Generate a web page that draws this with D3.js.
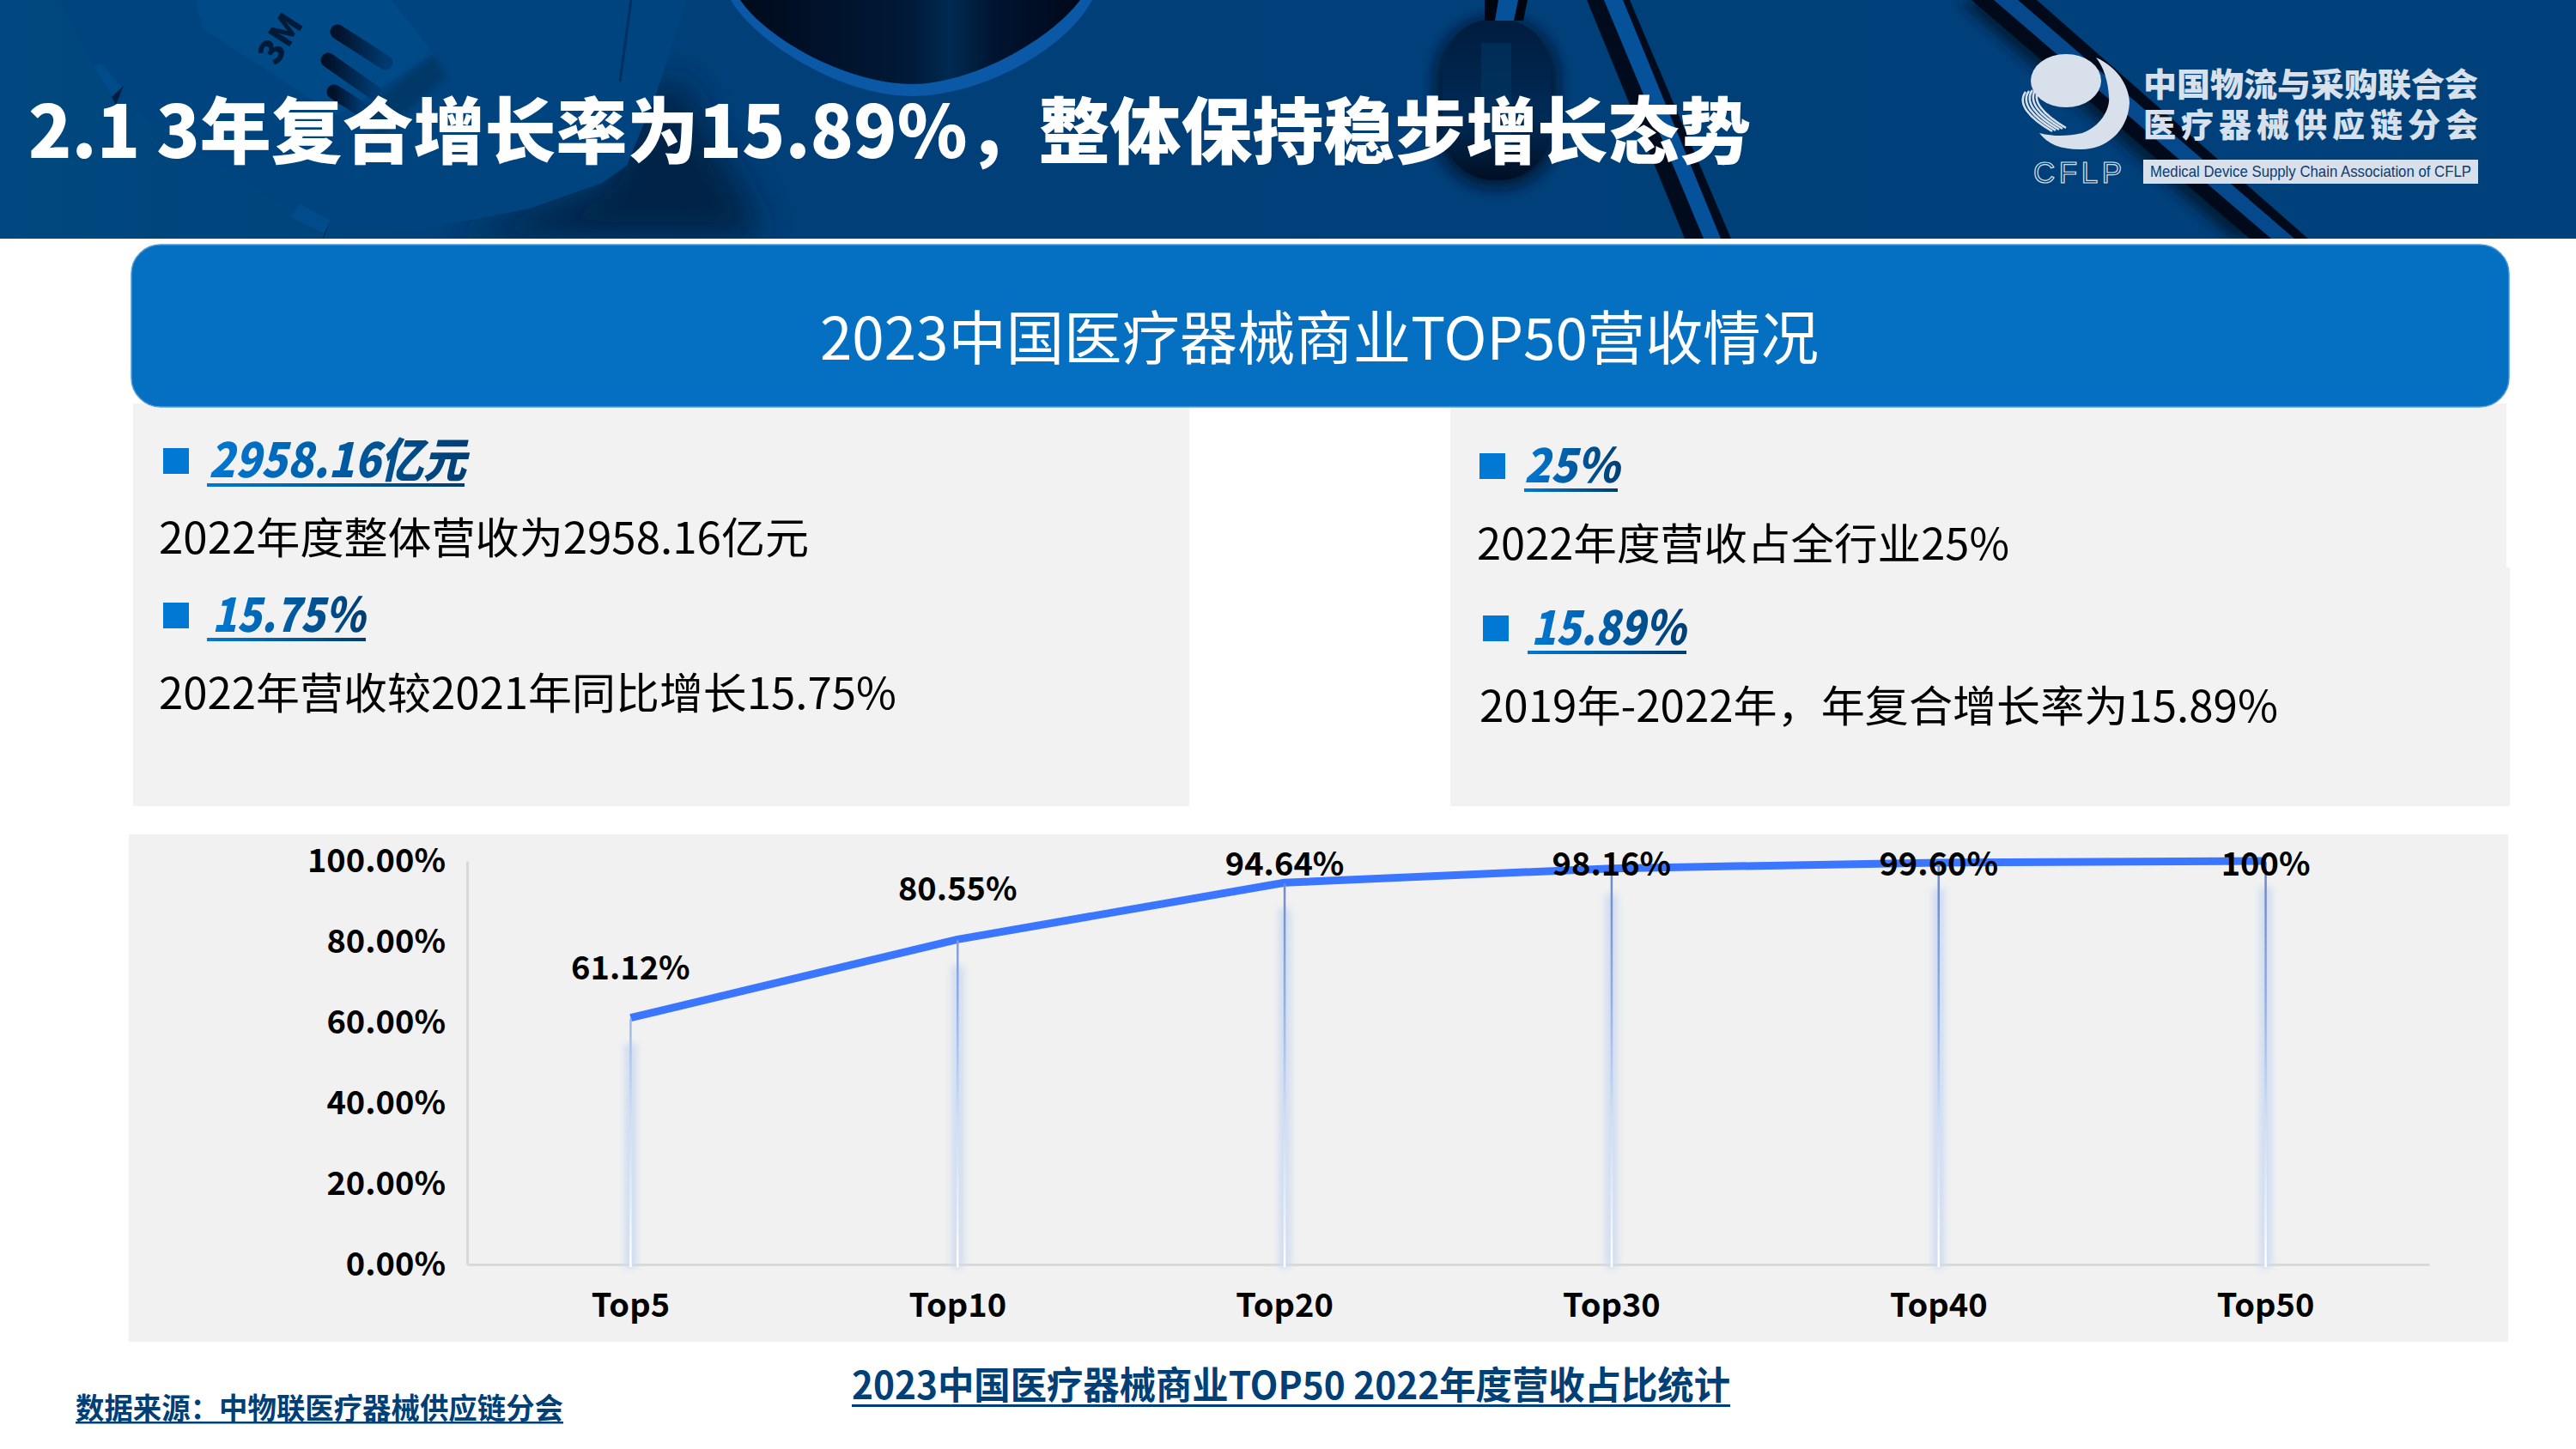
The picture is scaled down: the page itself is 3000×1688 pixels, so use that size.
<!DOCTYPE html>
<html>
<head>
<meta charset="utf-8">
<script src="https://cdnjs.cloudflare.com/ajax/libs/d3/7.8.5/d3.min.js"></script>
<style>
  html, body { margin: 0; padding: 0; background: #ffffff; }
  svg { display: block; }
  text { font-family: "Noto Sans CJK SC", "Noto Sans", sans-serif; }
</style>
</head>
<body>
<svg id="page" width="3000" height="1688"></svg>
<script>
// chart data
var categories = ["Top5", "Top10", "Top20", "Top30", "Top40", "Top50"];
var shareValues = [61.12, 80.55, 94.64, 98.16, 99.60, 100];
var shareLabels = ["61.12%", "80.55%", "94.64%", "98.16%", "99.60%", "100%"];
var yTicks = [0, 20, 40, 60, 80, 100];

var svg = d3.select("#page");
var defs = svg.append("defs");

function gradient(id, stops, horizontal) {
  var g = defs.append("linearGradient").attr("id", id)
    .attr("x1", 0).attr("y1", 0)
    .attr("x2", horizontal ? 1 : 0).attr("y2", horizontal ? 0 : 1);
  stops.forEach(function (s) {
    g.append("stop").attr("offset", s[0]).attr("stop-color", s[1]);
  });
  return g;
}
function blur(id, sd) {
  defs.append("filter").attr("id", id)
    .attr("x", "-100%").attr("y", "-100%").attr("width", "300%").attr("height", "300%")
    .append("feGaussianBlur").attr("stdDeviation", sd);
}
gradient("hl", [[0, "#0079d4"], [1, "#003e72"]], true);
gradient("bowl", [[0, "#000a1c"], [0.5, "#001a38"], [0.62, "#002a52"], [0.75, "#001430"], [1, "#00081a"]], true);
gradient("capsule", [[0, "#001c3d"], [0.6, "#002b57"], [1, "#000f24"]], false);
gradient("base", [[0, "#00487f"], [0.3, "#003f78"], [1, "#00417b"]], true);
gradient("slot", [[0, "#00122a"], [1, "#003a70"]], true);
blur("b4", 4);
blur("b8", 8);
blur("b20", 20);
// keeps the blurred shadows inside the header band
defs.append("clipPath").attr("id", "headClip")
  .append("rect").attr("width", 3000).attr("height", 278);

/* ---------- header band with the picture behind the title ---------- */
var head = svg.append("g").attr("clip-path", "url(#headClip)");
head.append("rect").attr("width", 3000).attr("height", 278).attr("fill", "url(#base)");

// mask
head.append("path").attr("filter", "url(#b20)").attr("fill", "#001a3a").attr("opacity", 0.8)
  .attr("d", "M790,90 L880,250 L880,278 L520,278 L700,215 L750,110 Z");
head.append("path").attr("fill", "#00447f")
  .attr("d", "M70,0 L109,77 L130,113 L337,243 L386,263 L491,267 L617,243 L701,213 L730,193 L765,107 L800,0 Z");
head.append("path").attr("fill", "#004a88")
  .attr("d", "M228,0 L235,33 L393,135 L505,63 L456,0 Z");
head.append("path").attr("fill", "#003767").attr("filter", "url(#b4)")
  .attr("d", "M505,63 L420,130 L440,160 L520,90 Z");
head.append("path").attr("fill", "none").attr("stroke", "#003060").attr("stroke-width", 3)
  .attr("d", "M735,0 L722,95");
head.append("path").attr("fill", "#004c8a").attr("d", "M109,77 L118,74 L144,104 L133,115 Z");
head.append("path").attr("fill", "#001e42").attr("d", "M130,113 L144,100 L135,122 Z");
head.append("path").attr("fill", "#004c8a").attr("d", "M337,252 L350,238 L385,257 L378,272 Z");
head.append("path").attr("fill", "#001e42").attr("d", "M378,272 L385,257 L375,282 Z");
head.selectAll(".slot").data([[393, 37, 449, 73], [382, 70, 435, 107], [389, 107, 421, 127]]).enter()
  .append("line").attr("class", "slot")
  .attr("x1", function (d) { return d[0]; }).attr("y1", function (d) { return d[1]; })
  .attr("x2", function (d) { return d[2]; }).attr("y2", function (d) { return d[3]; })
  .attr("stroke", "url(#slot)").attr("stroke-width", 17).attr("stroke-linecap", "round");
head.append("text").attr("transform", "translate(326,45) rotate(-57)")
  .attr("text-anchor", "middle").attr("dy", "0.36em")
  .attr("font-size", 40).attr("font-weight", 900).attr("fill", "#001a38").text("3M");

// bowl
head.append("path").attr("fill", "#0a58a6")
  .attr("d", "M851,0 C880,50 980,112 1062,112 C1140,112 1240,60 1272,0 Z");
head.append("path").attr("fill", "url(#bowl)")
  .attr("d", "M862,0 C895,48 990,98 1062,98 C1130,98 1222,48 1258,0 Z");

// capsule and tubes
head.append("rect").attr("x", 1670).attr("y", 20).attr("width", 146).attr("height", 200).attr("rx", 70)
  .attr("fill", "#000f24").attr("opacity", 0.7).attr("filter", "url(#b8)");
head.append("rect").attr("x", 1680).attr("y", 22).attr("width", 126).attr("height", 188).attr("rx", 60)
  .attr("fill", "url(#capsule)");
head.append("rect").attr("x", 1725).attr("y", 50).attr("width", 35).attr("height", 120).attr("fill", "#00335f").attr("opacity", 0.7);
head.append("path").attr("fill", "#00060f").attr("d", "M1729,0 L1779,0 L1774,24 L1729,24 Z");
head.append("path").attr("fill", "#06529a").attr("d", "M1745,0 L1768,0 L1763,24 L1741,24 Z");
head.append("path").attr("fill", "#000c1e").attr("d", "M1848,0 L1898,0 L2016,278 L1962,278 Z");
head.append("path").attr("fill", "#06529a").attr("d", "M1868,0 L1890,0 L2004,278 L1984,278 Z");
head.append("path").attr("fill", "#001a38").attr("filter", "url(#b8)")
  .attr("d", "M2280,0 L2330,0 L2660,278 L2600,278 Z");
head.append("path").attr("fill", "#000a1a").attr("d", "M2296,0 L2372,0 L2688,278 L2620,278 Z");
head.append("path").attr("fill", "#05498c").attr("d", "M2322,0 L2350,0 L2672,278 L2645,278 Z");

head.append("text").attr("x", 33).attr("y", 184).attr("fill", "#ffffff")
  .attr("font-size", 84).attr("font-weight", 900)
  .attr("textLength", 2006).attr("lengthAdjust", "spacingAndGlyphs")
  .text("2.1 3年复合增长率为15.89%，整体保持稳步增长态势");

/* ---------- logo ---------- */
var logoColor = "#d8e1eb";
var logo = svg.append("g");
logo.append("ellipse").attr("cx", 2406).attr("cy", 94).attr("rx", 41).attr("ry", 31).attr("fill", logoColor);
logo.append("path").attr("fill", logoColor)
  .attr("d", "M2441,67 C2470,80 2480,105 2480,120 C2478,155 2450,175 2422,174 C2400,174 2385,168 2375,155 C2395,160 2410,158 2425,155 C2445,148 2458,128 2456,112 C2455,95 2450,78 2441,67 Z");
logo.selectAll(".rib").data([0, 1, 2, 3, 4]).enter().append("path").attr("class", "rib")
  .attr("fill", "none").attr("stroke", logoColor).attr("stroke-width", 2.5)
  .attr("d", function (d) {
    var a = 2351 + d * 4, b = 107 + d * -1;
    return "M" + (a + 8) + "," + b + " C" + (a - 2) + "," + (b + 14) + " " + (a + 12) + "," + (b + 30) + " " + (a + 39) + "," + (b + 46);
  });
logo.append("text").attr("x", 2368).attr("y", 213).attr("font-size", 35)
  .attr("fill", "none").attr("stroke", logoColor).attr("stroke-width", 1.2)
  .attr("textLength", 103).attr("lengthAdjust", "spacing")
  .style("font-family", "'Liberation Sans', sans-serif").text("CFLP");
logo.append("text").attr("x", 2496).attr("y", 112).attr("font-size", 38).attr("font-weight", 900)
  .attr("fill", logoColor).attr("textLength", 390).attr("lengthAdjust", "spacingAndGlyphs")
  .text("中国物流与采购联合会");
logo.append("text").attr("x", 2496).attr("y", 159).attr("font-size", 38).attr("font-weight", 900)
  .attr("fill", logoColor).attr("textLength", 390).attr("lengthAdjust", "spacing")
  .text("医疗器械供应链分会");
logo.append("rect").attr("x", 2496).attr("y", 186).attr("width", 390).attr("height", 28).attr("fill", logoColor);
logo.append("text").attr("x", 2504).attr("y", 206).attr("font-size", 19).attr("fill", "#0c3c70")
  .attr("textLength", 374).attr("lengthAdjust", "spacingAndGlyphs")
  .style("font-family", "'Liberation Sans', sans-serif")
  .text("Medical Device Supply Chain Association of CFLP");

/* ---------- grey panels and blue title bar ---------- */
var panelColor = "#f2f2f2";
svg.append("rect").attr("x", 155).attr("y", 470).attr("width", 1230).attr("height", 469).attr("fill", panelColor);
svg.append("rect").attr("x", 1689).attr("y", 470).attr("width", 1230).attr("height", 192).attr("fill", panelColor);
svg.append("rect").attr("x", 1689).attr("y", 661).attr("width", 1234).attr("height", 278).attr("fill", panelColor);
svg.append("rect").attr("x", 150).attr("y", 972).attr("width", 2771).attr("height", 591).attr("fill", "#f1f1f1");

svg.append("rect").attr("x", 153).attr("y", 285).attr("width", 2769).attr("height", 189).attr("rx", 34)
  .attr("fill", "#0570c2").attr("stroke", "#4d9bdc").attr("stroke-width", 1.5);
svg.append("text").attr("x", 955).attr("y", 419).attr("fill", "#ffffff").attr("font-size", 68)
  .attr("textLength", 1163).attr("lengthAdjust", "spacingAndGlyphs")
  .text("2023中国医疗器械商业TOP50营收情况");

/* ---------- key figures ---------- */
function keyFigure(bx, by, tx, base, tw, ux, uy, uw, figure) {
  svg.append("rect").attr("x", bx).attr("y", by).attr("width", 30).attr("height", 30).attr("fill", "#0078d4");
  svg.append("text").attr("x", tx).attr("y", base).attr("fill", "url(#hl)")
    .attr("font-size", 55).attr("font-weight", 900).attr("font-style", "italic")
    .attr("textLength", tw).attr("lengthAdjust", "spacingAndGlyphs").text(figure);
  svg.append("rect").attr("x", ux).attr("y", uy).attr("width", uw).attr("height", 4).attr("fill", "url(#hl)");
}
function bodyLine(x, base, w, line) {
  svg.append("text").attr("x", x).attr("y", base).attr("fill", "#000000").attr("font-size", 50)
    .attr("textLength", w).attr("lengthAdjust", "spacingAndGlyphs").text(line);
}
keyFigure(190, 522, 243, 556, 300, 241, 563, 300, "2958.16亿元");
bodyLine(185, 645, 757, "2022年度整体营收为2958.16亿元");
keyFigure(190, 702, 247, 736, 178, 241, 743, 185, "15.75%");
bodyLine(185, 826, 859, "2022年营收较2021年同比增长15.75%");
keyFigure(1723, 528, 1775, 562, 111, 1775, 569, 109, "25%");
bodyLine(1720, 652, 620, "2022年度营收占全行业25%");
keyFigure(1727, 717, 1783, 751, 180, 1779, 758, 185, "15.89%");
bodyLine(1723, 841, 930, "2019年-2022年，年复合增长率为15.89%");

/* ---------- the chart ---------- */
var x = d3.scaleBand().domain(categories).range([544, 2829]);
var y = d3.scaleLinear().domain([0, 100]).range([1473, 1003]);
var cx = function (i) { return x(categories[i]) + x.bandwidth() / 2; };

var stemGrad = defs.append("linearGradient").attr("id", "stem")
  .attr("gradientUnits", "userSpaceOnUse")
  .attr("x1", 0).attr("x2", 0).attr("y1", y(100)).attr("y2", y(0));
[[0, "#6a84c6"], [0.35, "#93afe8"], [0.62, "#c9dcf7"], [0.85, "#e6effb"], [1, "#ffffff"]].forEach(function (s) {
  stemGrad.append("stop").attr("offset", s[0]).attr("stop-color", s[1]);
});

var axisFont = function (g) {
  g.selectAll("text").attr("font-size", 38).attr("font-weight", 700).attr("fill", "#000000")
    .style("font-family", "'Noto Sans CJK SC', sans-serif");
  g.selectAll(".domain").attr("stroke", "#d9d9d9").attr("stroke-width", 3);
};
svg.append("g").attr("transform", "translate(544,0)")
  .call(d3.axisLeft(y).tickValues(yTicks).tickSize(0).tickPadding(25)
    .tickFormat(function (d) { return d.toFixed(2) + "%"; }))
  .call(axisFont);
svg.append("g").attr("transform", "translate(0,1473)")
  .call(d3.axisBottom(x).tickSize(0).tickPadding(34))
  .call(axisFont);

// soft halo round each stem
svg.selectAll(".halo").data(shareValues).enter().append("rect").attr("class", "halo")
  .attr("x", function (d, i) { return cx(i) - 7; })
  .attr("y", function (d) { return y(d) + 30; })
  .attr("width", 14)
  .attr("height", function (d) { return y(0) - y(d) - 26; })
  .attr("fill", "#cfdcf0").attr("filter", "url(#b4)");

svg.append("path").datum(shareValues)
  .attr("fill", "none").attr("stroke", "#3a76ff").attr("stroke-width", 9).attr("stroke-linejoin", "round")
  .attr("d", d3.line().x(function (d, i) { return cx(i); }).y(function (d) { return y(d); }));

svg.selectAll(".stem").data(shareValues).enter().append("rect").attr("class", "stem")
  .attr("x", function (d, i) { return cx(i) - 1.25; })
  .attr("y", function (d) { return y(d) + 1; })
  .attr("width", 2.5)
  .attr("height", function (d) { return y(0) - y(d) + 2; })
  .attr("fill", "url(#stem)");

// data labels sit above the line, the last ones run across it
svg.selectAll(".lab").data(shareValues).enter().append("text").attr("class", "lab")
  .attr("x", function (d, i) { return cx(i); })
  .attr("y", function (d) { return Math.max(y(d) - 45, 1020); })
  .attr("text-anchor", "middle").attr("font-size", 38).attr("font-weight", 700).attr("fill", "#000000")
  .text(function (d, i) { return shareLabels[i]; });

/* ---------- footer ---------- */
var navy = "#004077";
svg.append("text").attr("x", 992).attr("y", 1630).attr("fill", navy).attr("font-size", 44).attr("font-weight", 700)
  .attr("textLength", 1023).attr("lengthAdjust", "spacingAndGlyphs")
  .text("2023中国医疗器械商业TOP50 2022年度营收占比统计");
svg.append("rect").attr("x", 992).attr("y", 1636).attr("width", 1023).attr("height", 3).attr("fill", navy);
svg.append("text").attr("x", 88).attr("y", 1653).attr("fill", navy).attr("font-size", 34).attr("font-weight", 700)
  .attr("textLength", 568).attr("lengthAdjust", "spacingAndGlyphs")
  .text("数据来源：中物联医疗器械供应链分会");
svg.append("rect").attr("x", 88).attr("y", 1656).attr("width", 568).attr("height", 2.5).attr("fill", navy);
</script>
</body>
</html>
